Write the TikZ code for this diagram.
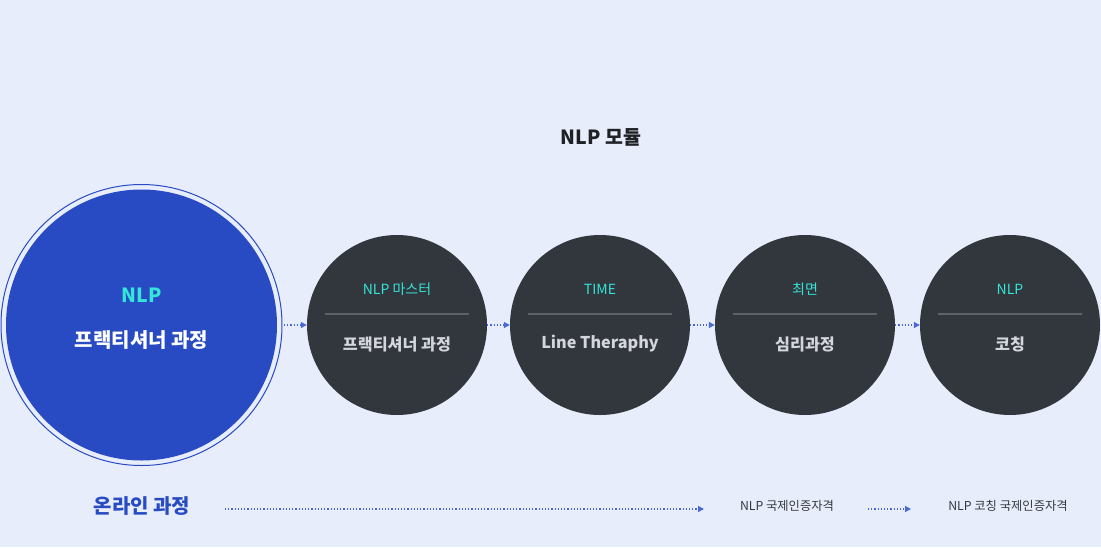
\documentclass[tikz,border=0pt]{standalone}
\usepackage{fontspec}
\setmainfont{Noto Sans CJK KR}
\usetikzlibrary{arrows.meta}
\definecolor{bg}{HTML}{E8EDFC}
\definecolor{blueF}{HTML}{284BC4}
\definecolor{darkF}{HTML}{32363D}
\definecolor{cyanT}{HTML}{33E6D8}
\definecolor{lightT}{HTML}{D3D6DB}
\definecolor{sepL}{HTML}{5D6169}
\definecolor{dotC}{HTML}{4A69D6}
\definecolor{titleT}{HTML}{1F2125}
\definecolor{smallT}{HTML}{35383E}
\tikzset{
  darkcircle/.style={circle, fill=darkF, minimum size=180pt, inner sep=0pt},
  toplabel/.style={text=cyanT, font=\fontsize{14}{16}\selectfont},
  botlabel/.style={text=lightT, font=\fontsize{16.2}{18}\selectfont\bfseries},
  sepline/.style={draw=sepL, line width=1.5pt},
  flow/.style={draw=dotC, line width=1.2pt, dash pattern=on 1.2pt off 2pt, -{Triangle[length=6pt,width=6pt]}},
}
\begin{document}
\begin{tikzpicture}[x=1pt,y=-1pt]
\fill[bg] (0,0) rectangle (1101,547);
\useasboundingbox (0,0) rectangle (1101,547);
\node[font=\fontsize{19.5}{22}\selectfont\bfseries, text=titleT] (title) at (601,137) {NLP 모듈};
% big circle
\node[circle, draw=blueF, line width=1pt, minimum size=281pt, inner sep=0pt] (ring) at (141.5,325) {};
\node[circle, fill=blueF, minimum size=271pt, inner sep=0pt] (big) at (141.5,325) {};
\node[text=cyanT, font=\fontsize{19.5}{22}\selectfont\bfseries] (bigtop) at (141.5,295) {NLP};
\node[text=white, font=\fontsize{20}{22}\selectfont\bfseries] (bigbot) at (141.5,340) {프랙티셔너 과정};
% dark circles
\foreach \n/\x/\t/\b in {c1/397/NLP 마스터/프랙티셔너 과정, c2/600/TIME/Line Theraphy, c3/805/최면/심리과정, c4/1010/NLP/코칭}{
  \node[darkcircle] (\n) at (\x,325) {};
  \node[toplabel] (\n t) at (\x,289) {\t};
  \draw[sepline] ([xshift=-72pt]\x,314) -- ([xshift=72pt]\x,314);
  \node[botlabel] (\n b) at (\x,344) {\b};
}
\draw[flow] (ring.east) ++(1.5pt,0) -- (c1.west);
\draw[flow] (c1.east) -- (c2.west);
\draw[flow] (c2.east) -- (c3.west);
\draw[flow] (c3.east) -- (c4.west);
% bottom row
\node[text=blueF, font=\fontsize{20}{22}\selectfont\bfseries] (online) at (142,506) {온라인 과정};
\node[text=smallT, font=\fontsize{12.3}{14}\selectfont] (cert1) at (787,506) {NLP 국제인증자격};
\node[text=smallT, font=\fontsize{12.3}{14}\selectfont] (cert2) at (1008,506) {NLP 코칭 국제인증자격};
\coordinate (s1) at (225,509);
\coordinate (e1) at (704,509);
\coordinate (s2) at (868,509);
\coordinate (e2) at (911,509);
\draw[flow] (s1) -- (e1);
\draw[flow] (s2) -- (e2);
\end{tikzpicture}
\end{document}
